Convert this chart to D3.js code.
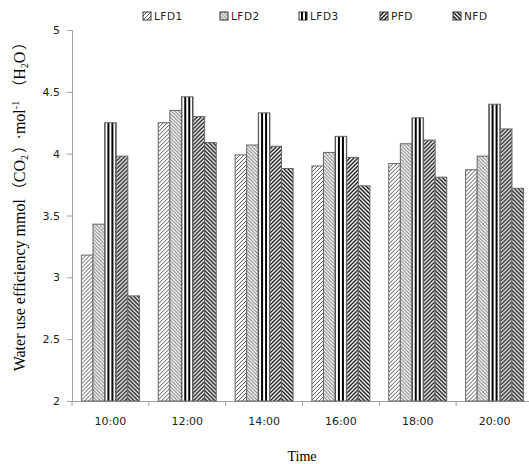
<!DOCTYPE html>
<html>
<head>
<meta charset="utf-8">
<script src="https://cdn.jsdelivr.net/npm/d3@7"></script>
<style>
  body { margin: 0; background: #fff; }
  svg { display: block; }
</style>
</head>
<body>
<svg id="chart" width="529" height="464"></svg>
<script>
// data
var times = ['10:00', '12:00', '14:00', '16:00', '18:00', '20:00'];
var series = ['LFD1', 'LFD2', 'LFD3', 'PFD', 'NFD'];
var LFD1 = [3.18, 4.25, 3.99, 3.90, 3.92, 3.87];
var LFD2 = [3.43, 4.35, 4.07, 4.01, 4.08, 3.98];
var LFD3 = [4.25, 4.46, 4.33, 4.14, 4.29, 4.40];
var PFD  = [3.98, 4.30, 4.06, 3.97, 4.11, 4.20];
var NFD  = [2.85, 4.09, 3.88, 3.74, 3.81, 3.72];
var yTicks = [2, 2.5, 3, 3.5, 4, 4.5, 5];

var values = {LFD1: LFD1, LFD2: LFD2, LFD3: LFD3, PFD: PFD, NFD: NFD};

var svg = d3.select('#chart');
var plotL = 72, plotR = 533, plotT = 30, plotB = 401;

var x = d3.scaleBand().domain(times).range([plotL, plotR]).paddingInner(0).paddingOuter(0);
var xs = d3.scaleBand().domain(series).range([0, x.bandwidth() * 0.755]);
var y = d3.scaleLinear().domain([2, 5]).range([plotB, plotT]);

// hatch patterns
var defs = svg.append('defs');
function hatch(id, dir, color, w, size) {
  var p = defs.append('pattern').attr('id', id)
    .attr('patternUnits', 'userSpaceOnUse')
    .attr('width', size).attr('height', size);
  p.append('rect').attr('width', size).attr('height', size).attr('fill', '#fff');
  var d = dir > 0
    ? 'M0,' + size + 'L' + size + ',0M-1,1L1,-1M' + (size - 1) + ',' + (size + 1) + 'L' + (size + 1) + ',' + (size - 1)
    : 'M0,0L' + size + ',' + size + 'M-1,' + (size - 1) + 'L1,' + (size + 1) + 'M' + (size - 1) + ',-1L' + (size + 1) + ',1';
  p.append('path').attr('d', d).attr('stroke', color).attr('stroke-width', w);
}
hatch('pLFD1', 1, '#555', 1, 4);
hatch('pLFD2', -1, '#8a8a8a', 1.1, 3.5);
hatch('pPFD', 1, '#222', 1.5, 4);
hatch('pNFD', -1, '#1a1a1a', 1.5, 4);
var pv = defs.append('pattern').attr('id', 'pLFD3')
  .attr('patternUnits', 'userSpaceOnUse').attr('width', 4).attr('height', 4);
pv.append('rect').attr('width', 4).attr('height', 4).attr('fill', '#fff');
pv.append('rect').attr('x', 2).attr('width', 2).attr('height', 4).attr('fill', '#000');

// axes
var yAxis = svg.append('g').attr('transform', 'translate(' + plotL + ',0)')
  .call(d3.axisLeft(y).tickValues(yTicks).tickSize(5).tickPadding(7).tickFormat(d3.format('')));
yAxis.select('.domain').attr('stroke', '#a0a0a0');
yAxis.selectAll('.tick line').attr('stroke', '#a0a0a0');
yAxis.selectAll('text').attr('font-family', 'DejaVu Sans, sans-serif').attr('font-size', 11).attr('fill', '#222');

var xAxis = svg.append('g').attr('transform', 'translate(0,' + plotB + ')')
  .call(d3.axisBottom(x).tickSize(0).tickPadding(16));
xAxis.select('.domain').attr('stroke', '#a0a0a0');
xAxis.selectAll('text').attr('font-family', 'DejaVu Sans, sans-serif').attr('font-size', 11).attr('fill', '#222');
xAxis.selectAll('.sep').data(times).enter().append('line')
  .attr('x1', function(d) { return x(d); }).attr('x2', function(d) { return x(d); })
  .attr('y1', 0).attr('y2', 5).attr('stroke', '#a0a0a0');

// bars
var groups = svg.selectAll('.grp').data(times).enter().append('g')
  .attr('transform', function(d) { return 'translate(' + (x(d) + x.bandwidth() * (1 - 0.755) / 2) + ',0)'; });
groups.selectAll('rect').data(function(d, i) {
    return series.map(function(s) { return {s: s, v: values[s][i]}; });
  }).enter().append('rect')
  .attr('x', function(d) { return xs(d.s); })
  .attr('y', function(d) { return y(d.v); })
  .attr('width', xs.bandwidth())
  .attr('height', function(d) { return plotB - y(d.v); })
  .attr('fill', function(d) { return 'url(#p' + d.s + ')'; })
  .attr('stroke', '#666').attr('stroke-width', 1);

// legend
var legX = [143, 220, 299, 380, 453];
var leg = svg.selectAll('.leg').data(series).enter().append('g')
  .attr('transform', function(d, i) { return 'translate(' + legX[i] + ',12)'; });
leg.append('rect').attr('width', 8).attr('height', 8)
  .attr('fill', function(d) { return 'url(#p' + d + ')'; })
  .attr('stroke', '#333').attr('stroke-width', 1);
leg.append('text').attr('x', 11).attr('y', 8)
  .attr('font-family', 'DejaVu Sans, sans-serif').attr('font-size', 10.5).attr('fill', '#222')
  .attr('letter-spacing', 0.5)
  .text(function(d) { return d; });

// titles
svg.append('text').attr('x', 302).attr('y', 461).attr('text-anchor', 'middle')
  .attr('font-family', 'Liberation Serif, serif').attr('font-size', 14).text('Time');

var cjk = 'Noto Sans CJK SC';
var yt = svg.append('text').attr('transform', 'translate(25,203) rotate(-90)')
  .attr('text-anchor', 'middle')
  .attr('font-family', 'Liberation Serif, serif').attr('font-size', 16);
yt.append('tspan').text('Water use efficiency mmol');
yt.append('tspan').attr('dx', 2).attr('font-family', cjk).attr('font-size', 15).text('（');
yt.append('tspan').text('CO');
yt.append('tspan').attr('font-size', 10).attr('dy', 3).text('2');
yt.append('tspan').attr('dy', -3).attr('dx', 2).attr('font-family', cjk).attr('font-size', 15).text('）');
yt.append('tspan').attr('dx', 6).text('·mol');
yt.append('tspan').attr('font-size', 10).attr('dy', -6).text('-1');
yt.append('tspan').attr('dy', 6).attr('dx', 6).attr('font-family', cjk).attr('font-size', 15).text('（');
yt.append('tspan').text('H');
yt.append('tspan').attr('font-size', 10).attr('dy', 3).text('2');
yt.append('tspan').attr('dy', -3).text('O');
yt.append('tspan').attr('dx', 2).attr('font-family', cjk).attr('font-size', 15).text('）');
</script>
</body>
</html>
